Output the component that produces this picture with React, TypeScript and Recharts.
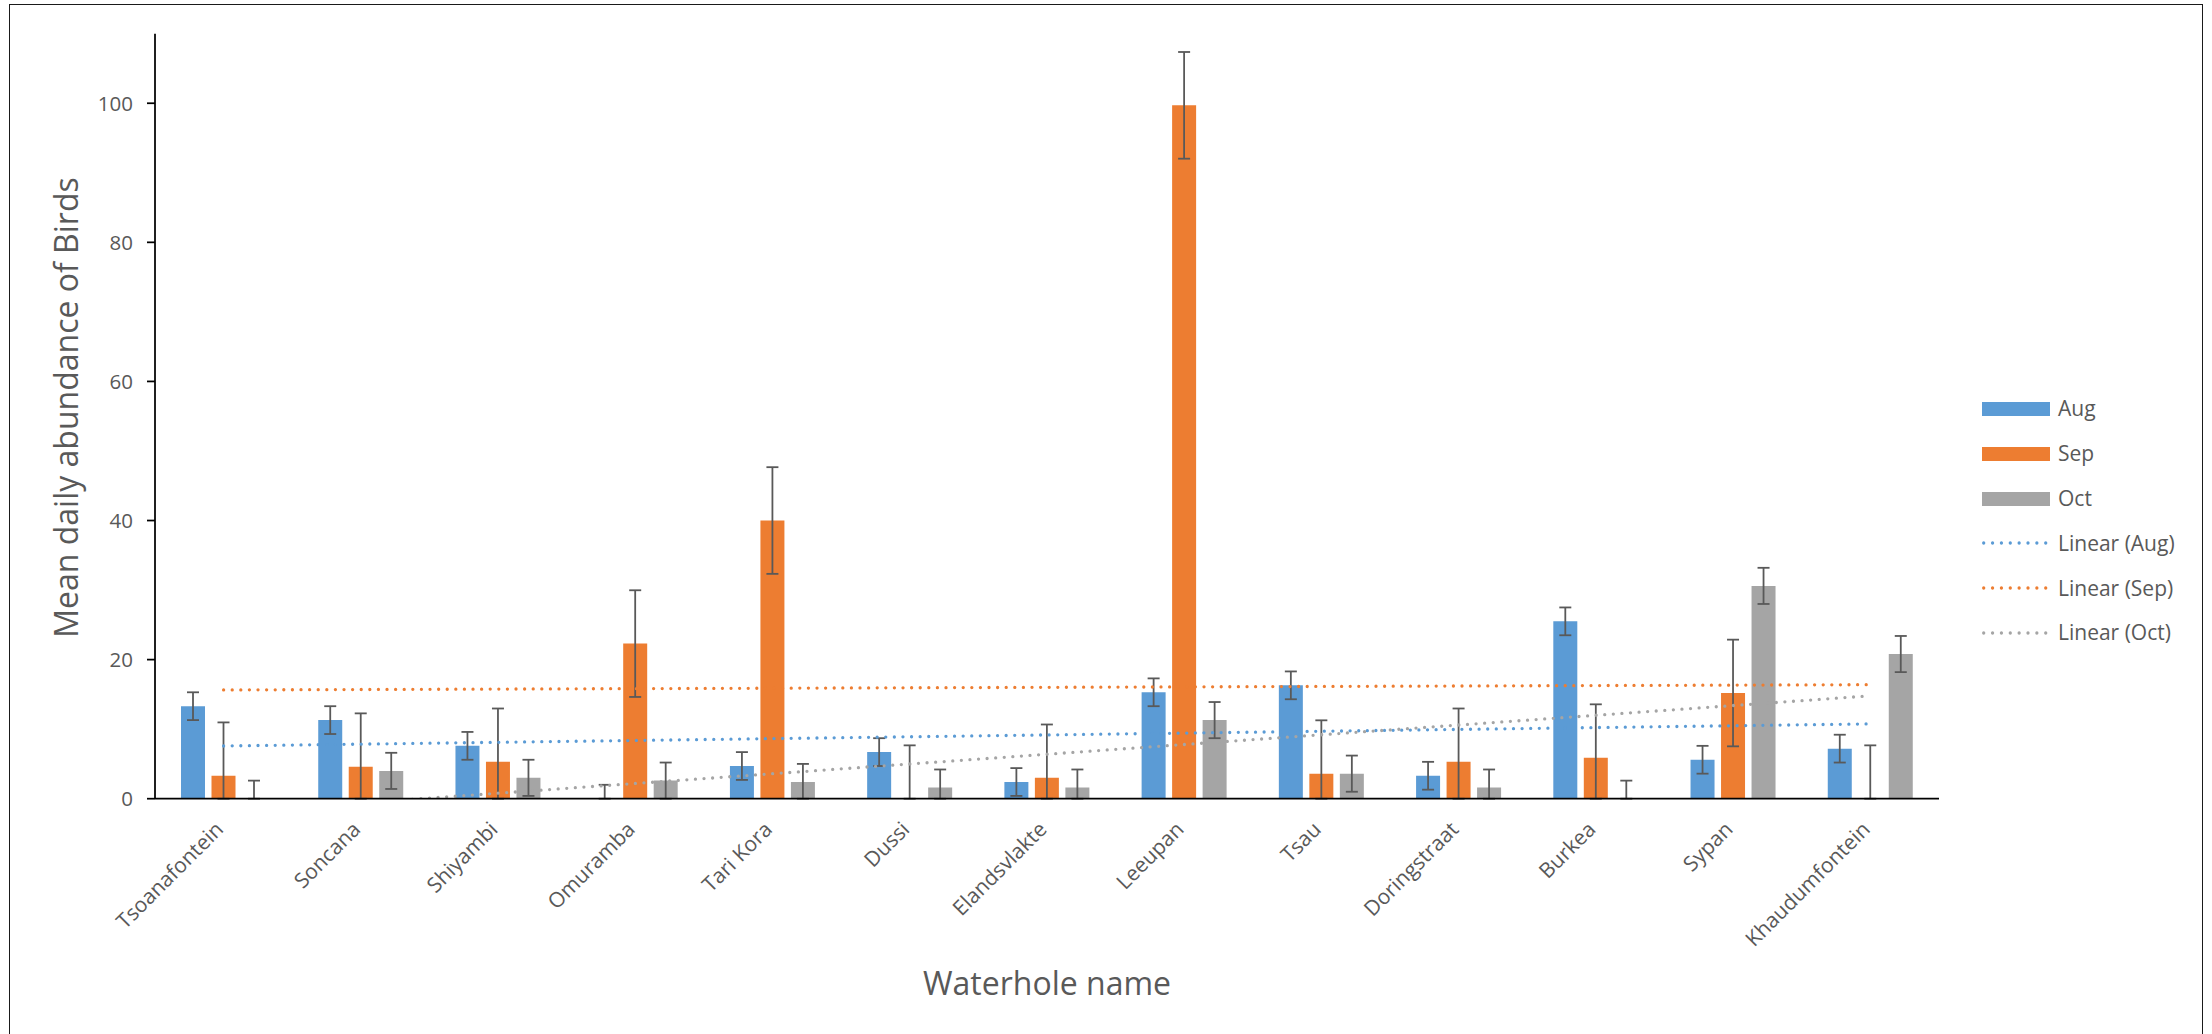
import React from 'react';
import { ComposedChart, Bar, Line, XAxis, YAxis, ErrorBar, Legend } from 'recharts';

// Waterholes along the category axis
const categories = [
  'Tsoanafontein', 'Soncana', 'Shiyambi', 'Omuramba', 'Tari Kora', 'Dussi', 'Elandsvlakte',
  'Leeupan', 'Tsau', 'Doringstraat', 'Burkea', 'Sypan', 'Khaudumfontein',
];

// Mean daily abundance per month
const augValues = [13.3, 11.3, 7.6, 0, 4.7, 6.7, 2.4, 15.3, 16.3, 3.3, 25.5, 5.6, 7.2];
const sepValues = [3.3, 4.6, 5.3, 22.3, 40.0, 0, 3.0, 99.7, 3.6, 5.3, 5.9, 15.2, 0];
const octValues = [0, 4.0, 3.0, 2.6, 2.4, 1.6, 1.6, 11.3, 3.6, 1.6, 0, 30.6, 20.8];

// Standard error per month
const augError = [2.0, 2.0, 2.0, 2.0, 2.0, 2.0, 2.0, 2.0, 2.0, 2.0, 2.0, 2.0, 2.0];
const sepError = [7.67, 7.67, 7.67, 7.67, 7.67, 7.67, 7.67, 7.67, 7.67, 7.67, 7.67, 7.67, 7.67];
const octError = [2.6, 2.6, 2.6, 2.6, 2.6, 2.6, 2.6, 2.6, 2.6, 2.6, 2.6, 2.6, 2.6];

const yTicks = [0, 20, 40, 60, 80, 100];
const boundaryTicks = [0, 1, 2, 3, 4, 5, 6, 7, 8, 9, 10, 11, 12, 13];

const AUG = '#5B9BD5';
const SEP = '#ED7D31';
const OCT = '#A5A5A5';
const TEXT = '#595959';
const FONT = '"Open Sans", "Noto Sans", "DejaVu Sans", sans-serif';

// Least-squares linear trend over category positions 1..n
function linearTrend(values: number[]): number[] {
  const n = values.length;
  const mx = (n + 1) / 2;
  const my = values.reduce((a, b) => a + b, 0) / n;
  let sxy = 0;
  let sxx = 0;
  values.forEach((v, i) => {
    const dx = i + 1 - mx;
    sxy += dx * (v - my);
    sxx += dx * dx;
  });
  const slope = sxy / sxx;
  return values.map((_, i) => my + slope * (i + 1 - mx));
}

// Error bars stop at the axis floor
const errPair = (v: number, e: number) => [Math.min(v, e), e];

const augTrend = linearTrend(augValues);
const sepTrend = linearTrend(sepValues);
const octTrend = linearTrend(octValues);

const rows = categories.map((name, i) => ({
  name,
  aug: augValues[i],
  sep: sepValues[i],
  oct: octValues[i],
  augErr: errPair(augValues[i], augError[i]),
  sepErr: errPair(sepValues[i], sepError[i]),
  octErr: errPair(octValues[i], octError[i]),
  augTrend: augTrend[i],
  sepTrend: sepTrend[i],
  octTrend: octTrend[i],
}));

const legendItems = [
  { label: 'Aug', color: AUG, kind: 'bar' },
  { label: 'Sep', color: SEP, kind: 'bar' },
  { label: 'Oct', color: OCT, kind: 'bar' },
  { label: 'Linear (Aug)', color: AUG, kind: 'line' },
  { label: 'Linear (Sep)', color: SEP, kind: 'line' },
  { label: 'Linear (Oct)', color: OCT, kind: 'line' },
];

const CategoryTick = (props: any) => {
  const { x, y, payload } = props;
  const ax = x + 1;
  const ay = y + 32;
  return (
    <text
      x={ax}
      y={ay}
      transform={`rotate(-45 ${ax} ${ay})`}
      textAnchor="end"
      fontFamily={FONT}
      fontSize={21}
      fill={TEXT}
    >
      {payload.value}
    </text>
  );
};

const LegendBox = () => (
  <div style={{ fontFamily: FONT, fontSize: 21, color: TEXT }}>
    {legendItems.map((it) => (
      <div key={it.label} style={{ display: 'flex', alignItems: 'center', height: 44.8 }}>
        <svg width={68} height={16} style={{ display: 'block' }}>
          {it.kind === 'bar' ? (
            <rect x={0} y={1} width={68} height={14} fill={it.color} />
          ) : (
            <line
              x1={1.7}
              y1={8}
              x2={64}
              y2={8}
              stroke={it.color}
              strokeWidth={3.3}
              strokeLinecap="round"
              strokeDasharray="0 8.86"
            />
          )}
        </svg>
        <span style={{ marginLeft: 8, lineHeight: 1, whiteSpace: 'nowrap' }}>{it.label}</span>
      </div>
    ))}
  </div>
);

const AXIS_H = 0.01;
const ERR_STYLE = { stroke: '#595959', strokeWidth: 1.8 };

export default function App() {
  return (
    <div
      style={{
        position: 'absolute',
        left: 0,
        top: 0,
        width: 2212,
        height: 1034,
        overflow: 'hidden',
        background: '#fff',
      }}
    >
      <div
        style={{
          position: 'absolute',
          left: 8.5,
          top: 3.5,
          width: 2194.3,
          height: 1100,
          border: '1.6px solid #1a1a1a',
          boxSizing: 'border-box',
        }}
      />
      <div style={{ position: 'absolute', left: 0, top: 0 }}>
        <ComposedChart
          width={2212}
          height={1034}
          data={rows}
          margin={{ top: 33.7, right: 273, bottom: 235.3 - 2 * AXIS_H, left: 0 }}
          barGap={6.5}
          style={{ fontFamily: FONT }}
        >
          <XAxis
            xAxisId="bounds"
            type="number"
            domain={[0, 13]}
            ticks={boundaryTicks}
            allowDataOverflow
            height={AXIS_H}
            tick={false}
            tickSize={8}
            axisLine={{ stroke: '#000', strokeWidth: 1.75 }}
            tickLine={{ stroke: '#000', strokeWidth: 1.75 }}
          />
          <XAxis
            dataKey="name"
            type="category"
            height={AXIS_H}
            interval={0}
            axisLine={false}
            tickLine={false}
            tickSize={0}
            tickMargin={0}
            tick={<CategoryTick />}
            label={{
              content: () => (
                <text x={1047} y={995} textAnchor="middle" fontFamily={FONT} fontSize={32} fill={TEXT}>
                  Waterhole name
                </text>
              ),
            }}
          />
          <YAxis
            width={155}
            domain={[0, 110]}
            allowDataOverflow
            ticks={yTicks}
            tickSize={8}
            tickMargin={14}
            axisLine={{ stroke: '#000', strokeWidth: 1.75 }}
            tickLine={{ stroke: '#000', strokeWidth: 1.75 }}
            tick={{ fill: TEXT, fontSize: 20.5, fontFamily: FONT }}
            label={{
              content: () => (
                <text
                  x={78}
                  y={407.5}
                  transform="rotate(-90 78 407.5)"
                  textAnchor="middle"
                  fontFamily={FONT}
                  fontSize={32}
                  fill={TEXT}
                >
                  Mean daily abundance of Birds
                </text>
              ),
            }}
          />
          <Bar dataKey="aug" fill={AUG} barSize={24} minPointSize={0.01} isAnimationActive={false}>
            <ErrorBar dataKey="augErr" width={6} {...ERR_STYLE} direction="y" />
          </Bar>
          <Bar dataKey="sep" fill={SEP} barSize={24} minPointSize={0.01} isAnimationActive={false}>
            <ErrorBar dataKey="sepErr" width={6} {...ERR_STYLE} direction="y" />
          </Bar>
          <Bar dataKey="oct" fill={OCT} barSize={24} minPointSize={0.01} isAnimationActive={false}>
            <ErrorBar dataKey="octErr" width={6} {...ERR_STYLE} direction="y" />
          </Bar>
          <Line
            dataKey="augTrend"
            type="linear"
            stroke={AUG}
            strokeWidth={3.3}
            strokeDasharray="0 8.6"
            strokeLinecap="round"
            dot={false}
            activeDot={false}
            isAnimationActive={false}
          />
          <Line
            dataKey="sepTrend"
            type="linear"
            stroke={SEP}
            strokeWidth={3.3}
            strokeDasharray="0 8.6"
            strokeLinecap="round"
            dot={false}
            activeDot={false}
            isAnimationActive={false}
          />
          <Line
            dataKey="octTrend"
            type="linear"
            stroke={OCT}
            strokeWidth={3.3}
            strokeDasharray="0 8.6"
            strokeLinecap="round"
            dot={false}
            activeDot={false}
            isAnimationActive={false}
          />
          <Legend
            layout="vertical"
            align="center"
            verticalAlign="middle"
            wrapperStyle={{ left: 1982, top: 386.6, width: 220 }}
            content={() => <LegendBox />}
          />
        </ComposedChart>
      </div>
    </div>
  );
}
